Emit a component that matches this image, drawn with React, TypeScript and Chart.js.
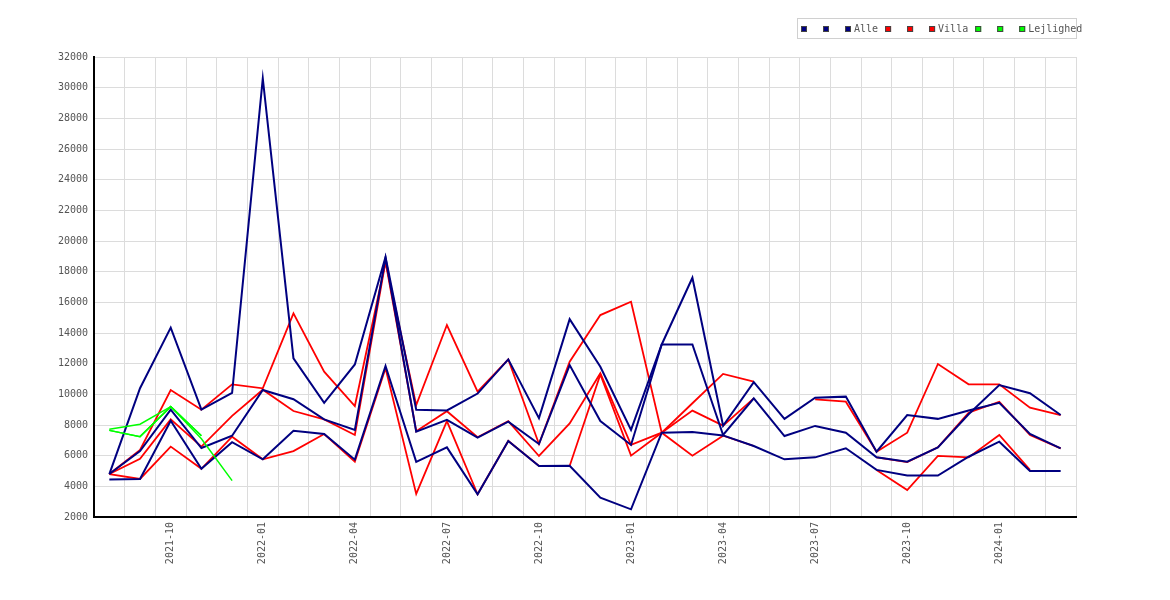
import { useEffect, useRef } from 'react';
import { Chart, registerables } from 'chart.js';

Chart.register(...registerables);

// måneder 2021-08 .. 2024-03
const months = [
  '2021-08', '2021-09', '2021-10', '2021-11', '2021-12',
  '2022-01', '2022-02', '2022-03', '2022-04', '2022-05', '2022-06',
  '2022-07', '2022-08', '2022-09', '2022-10', '2022-11', '2022-12',
  '2023-01', '2023-02', '2023-03', '2023-04', '2023-05', '2023-06',
  '2023-07', '2023-08', '2023-09', '2023-10', '2023-11', '2023-12',
  '2024-01', '2024-02', '2024-03'
];

const yTicks = { min: 2000, max: 32000, step: 2000 };

const alleHi = [4800, 10400, 14350, 9000, 10100, 30600, 12350, 9450, 11950, 18950, 9000, 8950, 10050, 12280, 8450, 14900, 11800, 7680, 13250, 17600, 7950, 10800, 8400, 9780, 9850, 6260, 8650, 8400, 8950, 9450, 7420, 6480];
const alleMid = [4800, 6300, 9000, 6500, 7300, 10280, 9680, 8370, 7680, 18900, 7560, 8330, 7170, 8220, 6760, 11910, 8260, 6700, 13250, 13250, 7350, 9740, 7280, 7940, 7500, 5890, 5610, 6540, 8700, 10600, 10070, 8650];
const alleLo = [4450, 4480, 8280, 5140, 6880, 5760, 7630, 7410, 5740, 11850, 5600, 6540, 3480, 6960, 5330, 5340, 3260, 2500, 7500, 7540, 7320, 6630, 5760, 5890, 6480, 5070, 4700, 4700, 5930, 6910, 5000, 5000];

const villaHi = [4800, 6370, 10280, 9000, 10650, 10390, 15280, 11480, 9240, 18650, 9300, 14520, 10170, 12280, 6760, 12130, 15170, 16040, 7500, 9420, 11330, 10830, null, 9670, 9520, 6260, 7500, 11980, 10650, 10650, 9130, 8650];
const villaMid = [4800, 5790, 8370, 6590, 8600, 10300, 8910, 8370, 7350, 18650, 7600, 8900, 7200, 8250, 5980, 8100, 11370, 6700, 7500, 8940, 7960, 9740, null, null, null, 5890, 5580, 6540, 8800, 9520, 7350, 6480];
const villaLo = [4800, 4480, 6590, 5140, 7240, 5760, 6300, 7410, 5610, 11700, 3510, 8250, 3480, 6960, 5330, 5330, 11300, 6000, 7500, 6000, 7300, 6630, null, null, null, 5070, 3760, 5980, 5890, 7350, 5070, null];

const lejlHi = [7720, 8050, 9200, 7100, 4370];
const lejlMid = [7650, 7240, 9200, 7300, null];
const lejlLo = [7650, 7240, 9200, 7300, null];

const NAVY = '#000080';
const RED = '#ff0000';
const LIME = '#00ff00';
const GRID = '#dcdcdc';
const TEXT = '#555555';
const FONT = "'DejaVu Sans Mono', monospace";

const pad = (arr: (number | null)[]) => months.map((_, i) => (i < arr.length ? arr[i] : null));

const series = [
  { label: '', data: alleHi, color: NAVY, width: 2, order: 1 },
  { label: '', data: alleMid, color: NAVY, width: 2, order: 1 },
  { label: 'Alle', data: alleLo, color: NAVY, width: 2, order: 1 },
  { label: '', data: villaHi, color: RED, width: 1.8, order: 2 },
  { label: '', data: villaMid, color: RED, width: 1.8, order: 2 },
  { label: 'Villa', data: villaLo, color: RED, width: 1.8, order: 2 },
  { label: '', data: lejlHi, color: LIME, width: 1.5, order: 0 },
  { label: '', data: lejlMid, color: LIME, width: 1.5, order: 0 },
  { label: 'Lejlighed', data: lejlLo, color: LIME, width: 1.5, order: 0 }
];

// egen forklaring i en ramme oppe til højre
const boxLegend = {
  id: 'boxLegend',
  afterDraw(chart: any) {
    const ctx = chart.ctx;
    const right = chart.chartArea.right;
    ctx.save();
    ctx.font = `10px ${FONT}`;
    ctx.textBaseline = 'middle';
    ctx.lineWidth = 1;
    ctx.strokeStyle = '#d0d0d0';
    ctx.strokeRect(right - 279 + 0.5, 18.5, 279, 20);
    let x = right - 275;
    chart.data.datasets.forEach((ds: any) => {
      ctx.fillStyle = ds.borderColor;
      ctx.fillRect(x, 26, 6, 6);
      ctx.strokeStyle = '#444';
      ctx.strokeRect(x + 0.5, 26.5, 5, 5);
      if (ds.label) {
        ctx.fillStyle = TEXT;
        ctx.fillText(ds.label, x + 9, 29);
        x += 9 + ctx.measureText(ds.label).width + 7;
      } else {
        x += 22;
      }
    });
    ctx.restore();
  }
};

export default function App() {
  const canvasRef = useRef<HTMLCanvasElement>(null);

  useEffect(() => {
    document.body.style.margin = '0';
    document.body.style.overflow = 'hidden';
    if (!canvasRef.current) return;

    const chart = new Chart(canvasRef.current, {
      type: 'line',
      data: {
        labels: months,
        datasets: series.map(s => ({
          label: s.label,
          data: pad(s.data),
          borderColor: s.color,
          backgroundColor: s.color,
          borderWidth: s.width,
          pointRadius: 0,
          pointHoverRadius: 0,
          tension: 0,
          fill: false,
          spanGaps: false,
          order: s.order
        }))
      },
      options: {
        animation: false,
        responsive: false,
        layout: { padding: { top: 57, right: 94, left: 0, bottom: 0 } },
        plugins: {
          legend: { display: false },
          tooltip: { enabled: false }
        },
        scales: {
          x: {
            type: 'category',
            offset: true,
            grid: { offset: true, color: GRID, drawTicks: false },
            border: { color: '#000', width: 2 },
            ticks: {
              autoSkip: false,
              minRotation: 90,
              maxRotation: 90,
              padding: 5,
              color: TEXT,
              font: { family: FONT, size: 10 },
              callback: (_v: any, i: number) => (/-(01|04|07|10)$/.test(months[i]) ? months[i] : '')
            },
            afterFit: (s: any) => { s.height = 83; }
          },
          y: {
            min: yTicks.min,
            max: yTicks.max,
            grid: { color: GRID, drawTicks: false },
            border: { color: '#000', width: 2 },
            ticks: {
              stepSize: yTicks.step,
              padding: 6,
              color: TEXT,
              font: { family: FONT, size: 10 },
              callback: (v: any) => String(v)
            },
            afterFit: (s: any) => { s.width = 94; }
          }
        }
      },
      plugins: [boxLegend]
    });

    return () => chart.destroy();
  }, []);

  return (
    <div style={{ width: 1170, height: 600 }}>
      <canvas ref={canvasRef} width={1170} height={600} />
    </div>
  );
}
